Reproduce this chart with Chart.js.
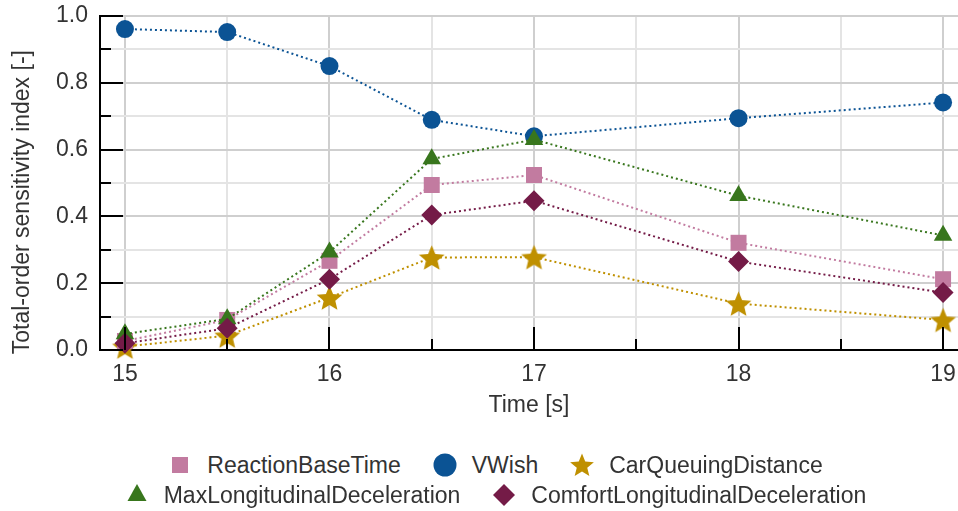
<!DOCTYPE html>
<html>
<head>
<meta charset="utf-8">
<script src="https://cdn.jsdelivr.net/npm/chart.js@4.4.1/dist/chart.umd.min.js"></script>
<style>
  body { margin: 0; background: #fff; }
  #wrap { position: relative; width: 958px; height: 511px; }
  #legend {
    position: absolute; left: 0; top: 440px; width: 958px; box-sizing: border-box;
    padding-left: 30px; padding-top: 10px;
    font: 23px "Liberation Sans", Arial, sans-serif; color: #333;
  }
  .row { display: flex; justify-content: center; align-items: center; height: 30px; }
  .item { display: flex; align-items: center; margin-left: 29px; white-space: nowrap; }
  .item:first-child { margin-left: 0; }
  .item canvas { margin-right: 12px; }
</style>
</head>
<body>
<div id="wrap">
  <canvas id="grafica" width="958" height="440"></canvas>
  <div id="legend"></div>
</div>
<script>
// data
const times = [15, 15.5, 16, 16.5, 17, 18, 19];
const reactionBaseTime = [0.027, 0.090, 0.267, 0.494, 0.524, 0.321, 0.212];
const vWish = [0.961, 0.952, 0.850, 0.689, 0.640, 0.694, 0.741];
const carQueuingDistance = [0.010, 0.043, 0.157, 0.277, 0.278, 0.139, 0.090];
const maxLongitudinalDeceleration = [0.048, 0.093, 0.293, 0.572, 0.630, 0.462, 0.343];
const comfortLongitudinalDeceleration = [0.020, 0.065, 0.212, 0.404, 0.447, 0.265, 0.172];
const xTicks = [15, 16, 17, 18, 19];
const yTicks = [0.0, 0.2, 0.4, 0.6, 0.8, 1.0];

const FONT = '"Liberation Sans", Arial, sans-serif';
const TEXT = '#333333';

function starPath(ctx, cx, cy, R, r) {
  ctx.beginPath();
  for (let i = 0; i < 10; i++) {
    const a = -Math.PI / 2 + i * Math.PI / 5;
    const rad = i % 2 ? r : R;
    ctx.lineTo(cx + rad * Math.cos(a), cy + rad * Math.sin(a));
  }
  ctx.closePath();
}

function makeStar(R, color) {
  const c = document.createElement('canvas');
  c.width = c.height = Math.ceil(R * 2 + 2);
  const g = c.getContext('2d');
  g.fillStyle = color;
  starPath(g, c.width / 2, c.height / 2 + R * 0.1, R, R * 0.45);
  g.fill();
  return c;
}

function legendMarker(type, color) {
  const c = document.createElement('canvas');
  c.width = 30; c.height = 30;
  const g = c.getContext('2d');
  g.fillStyle = color;
  const cx = 15, cy = 15;
  g.beginPath();
  if (type === 'rect') g.rect(cx - 8, cy - 8, 16, 16);
  if (type === 'circle') g.arc(cx, cy, 11.5, 0, Math.PI * 2);
  if (type === 'triangle') { g.moveTo(cx, cy - 11); g.lineTo(cx + 9.5, cy + 6); g.lineTo(cx - 9.5, cy + 6); g.closePath(); }
  if (type === 'rectRot') { g.moveTo(cx, cy - 11); g.lineTo(cx + 11, cy); g.lineTo(cx, cy + 11); g.lineTo(cx - 11, cy); g.closePath(); }
  g.fill();
  if (type === 'star') { starPath(g, cx, cy + 1, 12.5, 5.5); g.fill(); }
  return c;
}

const series = [
  { label: 'ReactionBaseTime', values: reactionBaseTime, color: '#c27ba0', style: 'rect', radius: 11.3, order: 2 },
  { label: 'VWish', values: vWish, color: '#0b5394', style: 'circle', radius: 9, order: 4 },
  { label: 'CarQueuingDistance', values: carQueuingDistance, color: '#bf9000', style: 'star', radius: 13, order: 3 },
  { label: 'MaxLongitudinalDeceleration', values: maxLongitudinalDeceleration, color: '#38761d', style: 'triangle', radius: 10.7, order: 1 },
  { label: 'ComfortLongitudinalDeceleration', values: comfortLongitudinalDeceleration, color: '#741b47', style: 'rectRot', radius: 10.5, order: 0 }
];

const datasets = series.map(s => ({
  label: s.label,
  data: times.map((t, i) => ({ x: t, y: s.values[i] })),
  borderColor: s.color,
  backgroundColor: s.color,
  borderWidth: 2,
  borderDash: [2, 3],
  pointStyle: s.style === 'star' ? makeStar(13.5, s.color) : s.style,
  pointRadius: s.radius,
  pointBorderWidth: 0,
  pointBackgroundColor: s.color,
  order: s.order,
  clip: 12
}));

// inward tick marks
const innerTicks = {
  id: 'innerTicks',
  afterDatasetsDraw(chart) {
    const { ctx, chartArea, scales: { x, y } } = chart;
    ctx.save();
    ctx.strokeStyle = '#000';
    ctx.lineWidth = 2;
    x.ticks.forEach(t => {
      const px = Math.round(x.getPixelForValue(t.value));
      const len = xTicks.includes(t.value) ? 23 : 11;
      ctx.beginPath();
      ctx.moveTo(px, chartArea.bottom);
      ctx.lineTo(px, chartArea.bottom - len);
      ctx.stroke();
    });
    y.ticks.forEach(t => {
      const py = Math.round(y.getPixelForValue(t.value));
      const len = Math.round(t.value * 10) % 2 === 0 ? 23 : 11;
      ctx.beginPath();
      ctx.moveTo(chartArea.left, py);
      ctx.lineTo(chartArea.left + len, py);
      ctx.stroke();
    });
    ctx.restore();
  }
};

new Chart(document.getElementById('grafica'), {
  type: 'line',
  data: { datasets: datasets },
  options: {
    responsive: false,
    animation: false,
    devicePixelRatio: 1,
    layout: { autoPadding: false, padding: { top: 16, right: 0, left: 0, bottom: 0 } },
    plugins: { legend: { display: false }, tooltip: { enabled: false } },
    scales: {
      x: {
        type: 'linear',
        min: 14.878,
        max: 19.073,
        afterFit: s => { s.height = 90; s.paddingLeft = 0; s.paddingRight = 0; },
        border: { color: '#000', width: 2 },
        grid: {
          drawTicks: false,
          lineWidth: 2,
          color: c => (c.tick && xTicks.includes(c.tick.value)) ? '#cfcfcf' : '#e4e4e4'
        },
        ticks: {
          stepSize: 0.5,
          includeBounds: false,
          autoSkip: false,
          maxRotation: 0,
          padding: 11,
          color: TEXT,
          font: { family: FONT, size: 23 },
          callback: v => xTicks.includes(v) ? String(v) : ''
        },
        title: {
          display: true,
          text: 'Time [s]',
          color: TEXT,
          font: { family: FONT, size: 23 },
          padding: { top: 0, bottom: 21 }
        }
      },
      y: {
        min: 0,
        max: 1,
        afterFit: s => { s.width = 100; s.paddingTop = 0; s.paddingBottom = 0; },
        border: { color: '#000', width: 2 },
        grid: {
          drawTicks: false,
          lineWidth: 2,
          color: c => (c.tick && Math.round(c.tick.value * 10) % 2 === 0) ? '#cfcfcf' : '#e4e4e4'
        },
        ticks: {
          stepSize: 0.1,
          autoSkip: false,
          padding: 12,
          color: TEXT,
          font: { family: FONT, size: 23 },
          callback: v => {
            const r = Math.round(v * 10) / 10;
            return yTicks.includes(r) ? r.toFixed(1) : '';
          }
        },
        title: {
          display: true,
          // trailing spaces push the title a bit lower, as in the original
          text: 'Total-order sensitivity index [-]\u00a0\u00a0\u00a0\u00a0\u00a0\u00a0',
          color: TEXT,
          font: { family: FONT, size: 23 },
          padding: { top: 9, bottom: 0 }
        }
      }
    }
  },
  plugins: [innerTicks]
});

// legend, two rows like the original
const legend = document.getElementById('legend');
[[0, 1, 2], [3, 4]].forEach(rowIdx => {
  const row = document.createElement('div');
  row.className = 'row';
  rowIdx.forEach(i => {
    const s = series[i];
    const item = document.createElement('div');
    item.className = 'item';
    item.appendChild(legendMarker(s.style, s.color));
    const span = document.createElement('span');
    span.textContent = s.label;
    item.appendChild(span);
    row.appendChild(item);
  });
  legend.appendChild(row);
});
</script>
</body>
</html>
